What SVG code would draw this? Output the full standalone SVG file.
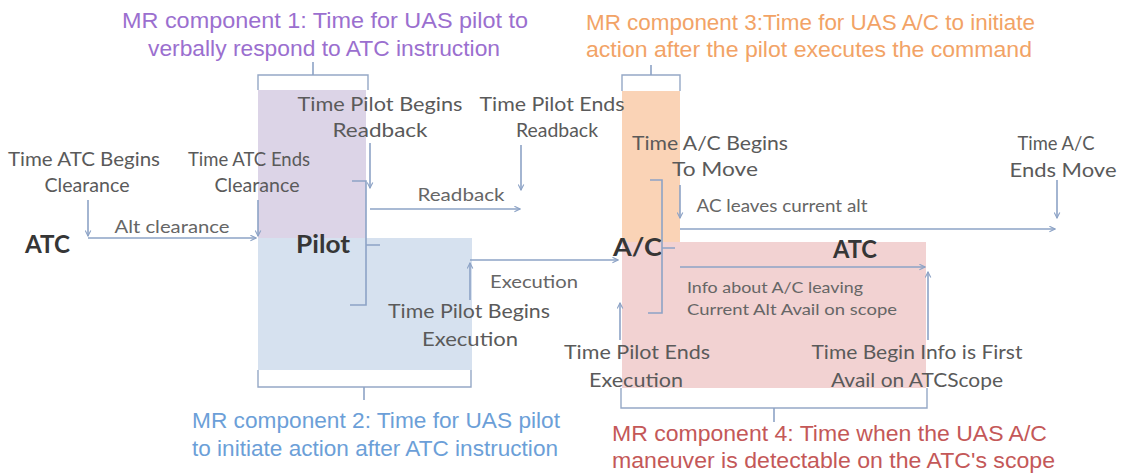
<svg xmlns="http://www.w3.org/2000/svg" width="1122" height="474" viewBox="0 0 1122 474">
  <defs>
    <marker id="ah" viewBox="0 0 10 10" refX="9" refY="5" markerWidth="7" markerHeight="7" orient="auto" markerUnits="userSpaceOnUse">
      <path d="M1,1 L9,5 L1,9" fill="none" stroke="#8DA3C6" stroke-width="1.6"/>
    </marker>
    <style>
      .ttl{font-family:"Liberation Sans",Arial,sans-serif;font-size:22px}
      .t1{fill:#9B6FCF}
      .t2{fill:#6C9FD8}
      .t3{fill:#F2A366}
      .t4{fill:#C45858}
      .lbl{font-family:Lato,"Open Sans",sans-serif;font-size:20px;fill:#5A5A5A;text-anchor:middle}
      .sm{font-family:Lato,"Open Sans",sans-serif;font-size:17px;fill:#666666;text-anchor:middle}
      .info{font-family:Lato,"Open Sans",sans-serif;font-size:16px;fill:#666666}
      .nd{font-family:Lato,"Open Sans",sans-serif;font-size:24px;font-weight:bold;fill:#363636}
      .ln{stroke:#8DA3C6;stroke-width:1.6;fill:none}
      .br{stroke:#95A8C6;stroke-width:1.4;fill:#FFFFFF}
      .ar{marker-end:url(#ah)}
    </style>
  </defs>

  <!-- MR component 1 : pilot verbal response -->
  <g id="mr1">
    <rect x="258" y="90" width="108" height="148" fill="#DCD4E7"/>
    <path class="br" d="M258,90 V75 H368 V90"/>
    <path class="ln" d="M313,75 V62"/>
    <text class="ttl t1" x="325" y="28" text-anchor="middle" textLength="406" lengthAdjust="spacingAndGlyphs">MR component 1: Time for UAS pilot to</text>
    <text class="ttl t1" x="324" y="56" text-anchor="middle" textLength="352" lengthAdjust="spacingAndGlyphs">verbally respond to ATC instruction</text>
  </g>

  <!-- MR component 2 : pilot initiates action -->
  <g id="mr2">
    <rect x="258" y="238" width="214" height="132" fill="#D6E1EF"/>
    <path class="br" d="M258,370 V387 H471 V370"/>
    <path class="ln" d="M364,387 V400"/>
    <text class="ttl t2" x="192" y="428" textLength="368" lengthAdjust="spacingAndGlyphs">MR component 2: Time for UAS pilot</text>
    <text class="ttl t2" x="192" y="456" textLength="366" lengthAdjust="spacingAndGlyphs">to initiate action after ATC instruction</text>
  </g>

  <!-- MR component 3 : aircraft initiates action -->
  <g id="mr3">
    <rect x="622" y="91" width="58" height="151" fill="#FAD3B6"/>
    <path class="br" d="M622,91 V75 H680 V91"/>
    <path class="ln" d="M651,75 V65"/>
    <text class="ttl t3" x="586" y="30" textLength="449" lengthAdjust="spacingAndGlyphs">MR component 3:Time for UAS A/C to initiate</text>
    <text class="ttl t3" x="586" y="57" textLength="446" lengthAdjust="spacingAndGlyphs">action after the pilot executes the command</text>
  </g>

  <!-- MR component 4 : maneuver visible on scope -->
  <g id="mr4">
    <rect x="622" y="242" width="304" height="146" fill="#F2D2D2"/>
    <path class="br" d="M621,388 V408 H927 V388"/>
    <path class="ln" d="M774,408 V422"/>
    <text class="ttl t4" x="612" y="441" textLength="435" lengthAdjust="spacingAndGlyphs">MR component 4: Time when the UAS A/C</text>
    <text class="ttl t4" x="612" y="468" textLength="443" lengthAdjust="spacingAndGlyphs">maneuver is detectable on the ATC's scope</text>
  </g>

  <!-- actors -->
  <g id="atc1"><text class="nd" x="25" y="253" textLength="45" lengthAdjust="spacingAndGlyphs">ATC</text></g>
  <g id="pilot"><text class="nd" x="296" y="253" textLength="54" lengthAdjust="spacingAndGlyphs">Pilot</text></g>
  <g id="ac"><text class="nd" x="613" y="256" textLength="49" lengthAdjust="spacingAndGlyphs">A/C</text></g>
  <g id="atc2"><text class="nd" x="833" y="258" textLength="44" lengthAdjust="spacingAndGlyphs">ATC</text></g>

  <!-- event time labels -->
  <g id="events">
    <text class="lbl" x="84" y="166" textLength="152" lengthAdjust="spacingAndGlyphs">Time ATC Begins</text>
    <text class="lbl" x="87" y="192" textLength="85" lengthAdjust="spacingAndGlyphs">Clearance</text>
    <text class="lbl" x="249" y="166" textLength="122" lengthAdjust="spacingAndGlyphs">Time ATC Ends</text>
    <text class="lbl" x="257" y="192" textLength="85" lengthAdjust="spacingAndGlyphs">Clearance</text>
    <text class="lbl" x="380" y="111" textLength="165" lengthAdjust="spacingAndGlyphs">Time Pilot Begins</text>
    <text class="lbl" x="380" y="137" textLength="95" lengthAdjust="spacingAndGlyphs">Readback</text>
    <text class="lbl" x="552" y="111" textLength="145" lengthAdjust="spacingAndGlyphs">Time Pilot Ends</text>
    <text class="lbl" x="557" y="137" textLength="82" lengthAdjust="spacingAndGlyphs">Readback</text>
    <text class="lbl" x="710" y="150" textLength="156" lengthAdjust="spacingAndGlyphs">Time A/C Begins</text>
    <text class="lbl" x="715" y="176" textLength="86" lengthAdjust="spacingAndGlyphs">To Move</text>
    <text class="lbl" x="1056" y="150" textLength="77" lengthAdjust="spacingAndGlyphs">Time A/C</text>
    <text class="lbl" x="1063" y="177" textLength="107" lengthAdjust="spacingAndGlyphs">Ends Move</text>
    <text class="lbl" x="469" y="318" textLength="162" lengthAdjust="spacingAndGlyphs">Time Pilot Begins</text>
    <text class="lbl" x="470" y="346" textLength="96" lengthAdjust="spacingAndGlyphs">Execution</text>
    <text class="lbl" x="637" y="359" textLength="146" lengthAdjust="spacingAndGlyphs">Time Pilot Ends</text>
    <text class="lbl" x="636" y="387" textLength="94" lengthAdjust="spacingAndGlyphs">Execution</text>
    <text class="lbl" x="917" y="359" textLength="211" lengthAdjust="spacingAndGlyphs">Time Begin Info is First</text>
    <text class="lbl" x="917" y="387" textLength="172" lengthAdjust="spacingAndGlyphs">Avail on ATCScope</text>
  </g>

  <!-- connectors -->
  <g id="connectors">
    <path class="ln ar" d="M88,200 V236"/>
    <path class="ln ar" d="M88,238 H256"/>
    <path class="ln ar" d="M258,200 V236"/>
    <path class="ln ar" d="M370,143 V188"/>
    <path class="ln" d="M352,181 H366 V305 H350 M366,245 H380"/>
    <path class="ln ar" d="M370,209 H520"/>
    <path class="ln ar" d="M521,145 V190"/>
    <path class="ln ar" d="M470,260 H618"/>
    <path class="ln ar" d="M470,300 V263"/>
    <path class="ln ar" d="M620,340 V303"/>
    <path class="ln ar" d="M680,185 V218"/>
    <path class="ln" d="M650,180 H662 V313 H648 M662,248 H675"/>
    <path class="ln ar" d="M680,229 H1055"/>
    <path class="ln ar" d="M1057,180 V218"/>
    <path class="ln ar" d="M680,267 H925"/>
    <path class="ln ar" d="M928,340 V272"/>
  </g>

  <!-- message labels -->
  <g id="messages">
    <text class="sm" x="172" y="233" textLength="115" lengthAdjust="spacingAndGlyphs">Alt clearance</text>
    <text class="sm" x="461" y="201" textLength="87" lengthAdjust="spacingAndGlyphs">Readback</text>
    <text class="sm" x="534" y="288" textLength="88" lengthAdjust="spacingAndGlyphs">Execution</text>
    <text class="sm" x="782" y="212" textLength="171" lengthAdjust="spacingAndGlyphs">AC leaves current alt</text>
    <text class="info" x="687" y="293" textLength="176" lengthAdjust="spacingAndGlyphs">Info about A/C leaving</text>
    <text class="info" x="687" y="315" textLength="210" lengthAdjust="spacingAndGlyphs">Current Alt Avail on scope</text>
  </g>
</svg>
